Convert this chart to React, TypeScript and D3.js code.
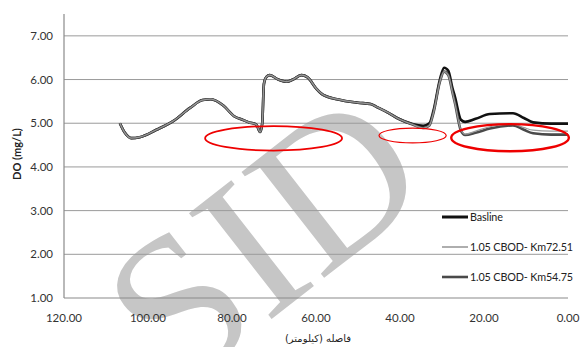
import React from 'react';
import * as d3 from 'd3';

// distance from the outlet (km) and dissolved oxygen (mg/L)
const distanceKm = [106.7, 105.5, 104, 102, 98, 94, 90, 87, 85, 82, 79.5, 77.5, 76, 74.2, 73.3, 72.8, 72.4, 71.8, 71, 69, 67, 65.5, 63.5, 62, 60, 58.3, 55, 50, 47, 45.5, 43, 40.7, 37, 34.5, 33, 32, 30.5, 29.5, 28.5, 27.5, 26.9, 25.5, 24.5, 22, 18.6, 13.1, 10.5, 8.3, 4, 0];

const baseline = [5.0, 4.78, 4.66, 4.68, 4.85, 5.05, 5.35, 5.53, 5.55, 5.4, 5.16, 5.08, 5.02, 4.97, 4.8, 5.0, 5.9, 6.06, 6.1, 6.0, 5.95, 6.0, 6.1, 6.05, 5.8, 5.65, 5.55, 5.47, 5.44, 5.37, 5.25, 5.12, 4.98, 4.94, 5.0, 5.3, 6.0, 6.27, 6.2, 5.8, 5.6, 5.08, 5.03, 5.1, 5.21, 5.23, 5.12, 5.02, 4.99, 4.99];

const cbodKm7251 = [5.0, 4.78, 4.66, 4.68, 4.85, 5.05, 5.35, 5.53, 5.55, 5.4, 5.16, 5.08, 5.02, 4.97, 4.8, 5.0, 5.9, 6.06, 6.1, 6.0, 5.95, 6.0, 6.1, 6.05, 5.8, 5.65, 5.55, 5.47, 5.44, 5.37, 5.25, 5.12, 4.97, 4.89, 4.95, 5.25, 5.95, 6.18, 6.1, 5.7, 5.45, 4.85, 4.75, 4.82, 4.92, 4.98, 4.9, 4.84, 4.82, 4.82];

const cbodKm5475 = [5.0, 4.78, 4.66, 4.68, 4.85, 5.05, 5.35, 5.53, 5.55, 5.4, 5.16, 5.08, 5.02, 4.97, 4.8, 5.0, 5.9, 6.06, 6.1, 6.0, 5.95, 6.0, 6.1, 6.05, 5.8, 5.65, 5.55, 5.47, 5.44, 5.37, 5.25, 5.12, 4.97, 4.89, 4.95, 5.25, 5.95, 6.18, 6.1, 5.7, 5.45, 4.83, 4.73, 4.78, 4.88, 4.95, 4.85, 4.77, 4.74, 4.74];

const seriesNames = ['Basline', '1.05 CBOD- Km72.51', '1.05 CBOD- Km54.75'];
const xTicks = [120, 100, 80, 60, 40, 20, 0];
const yTicks = [1, 2, 3, 4, 5, 6, 7];

// red highlight ellipses: centre km, centre DO, half-width km, half-height DO
const highlightKm = [70.1, 37.0, 13.8];
const highlightDo = [4.655, 4.72, 4.67];
const highlightRxKm = [16.3, 8.0, 14.0];
const highlightRyDo = [0.28, 0.17, 0.31];

const W = 581;
const H = 347;
const margin = { top: 14, right: 13, bottom: 49, left: 64 };

const styles = [
  { stroke: '#111', width: 2.6 },
  { stroke: '#9a9a9a', width: 1.2 },
  { stroke: '#4a4a4a', width: 2.6 },
];

export default function App() {
  const x = d3.scaleLinear().domain([120, 0]).range([margin.left, W - margin.right]);
  const y = d3.scaleLinear().domain([1, 7.5]).range([H - margin.bottom, margin.top]);

  const values = [baseline, cbodKm7251, cbodKm5475];
  const line = d3
    .line<number>()
    .x((_, i) => x(distanceKm[i]))
    .y((d) => y(d))
    .curve(d3.curveMonotoneX);

  // draw order: baseline, dark series, light series on top
  const order = [0, 2, 1];
  const font = 'Lato, "Open Sans", sans-serif';

  return (
    <svg width={W} height={H} style={{ position: 'absolute', left: 0, top: 0, background: '#fff' }}>
      {/* watermark */}
      <text
        transform="translate(306,292) rotate(-38)"
        textAnchor="middle"
        fontFamily='"Liberation Serif", serif'
        fontSize={205}
        fill="#c6c6c6"
      >
        SID
      </text>

      {/* grid */}
      {yTicks.slice(1).map((t) => (
        <line key={t} x1={x(120)} x2={x(0)} y1={y(t)} y2={y(t)} stroke="#9a9a9a" strokeWidth={1} />
      ))}
      <line x1={x(120)} x2={x(0)} y1={y(1)} y2={y(1)} stroke="#8a8a8a" strokeWidth={1.2} />
      <line x1={x(120)} x2={x(120)} y1={y(7.5)} y2={y(1)} stroke="#8a8a8a" strokeWidth={1.2} />

      {yTicks.map((t) => (
        <text key={t} x={53} y={y(t)} dy="0.35em" textAnchor="end" fontFamily={font} fontSize={11.5} fill="#333">
          {t.toFixed(2)}
        </text>
      ))}
      {xTicks.map((t) => (
        <text key={t} x={x(t)} y={y(1) + 24} textAnchor="middle" fontFamily={font} fontSize={11.5} fill="#333">
          {t.toFixed(2)}
        </text>
      ))}

      <text
        transform="translate(21,154) rotate(-90)"
        textAnchor="middle"
        fontFamily={font}
        fontWeight="bold"
        fontSize={11}
        fill="#222"
      >
        DO (mg/L)
      </text>
      <text x={318} y={342} textAnchor="middle" fontFamily='"DejaVu Sans", sans-serif' fontSize={10} fill="#222">
        فاصله (کیلومتر)
      </text>

      {/* series */}
      {order.map((s) => (
        <path key={s} d={line(values[s]) || ''} fill="none" stroke={styles[s].stroke} strokeWidth={styles[s].width} strokeLinejoin="round" />
      ))}

      {/* highlights */}
      {highlightKm.map((k, i) => (
        <ellipse
          key={i}
          cx={x(k)}
          cy={y(highlightDo[i])}
          rx={Math.abs(x(k + highlightRxKm[i]) - x(k))}
          ry={Math.abs(y(highlightDo[i] + highlightRyDo[i]) - y(highlightDo[i]))}
          fill="none"
          stroke="#ee0000"
          strokeWidth={[1.8, 1.2, 2.4][i]}
        />
      ))}

      {/* legend */}
      {seriesNames.map((n, i) => (
        <g key={n} transform={`translate(442,${217 + i * 30})`}>
          <line x1={0} x2={26} y1={0} y2={0} stroke={styles[i].stroke} strokeWidth={[3, 1.6, 2.6][i]} />
          <text x={28} y={0} dy="0.35em" fontFamily={font} fontSize={10.8} letterSpacing={-0.15} fill="#222">
            {n}
          </text>
        </g>
      ))}
    </svg>
  );
}
